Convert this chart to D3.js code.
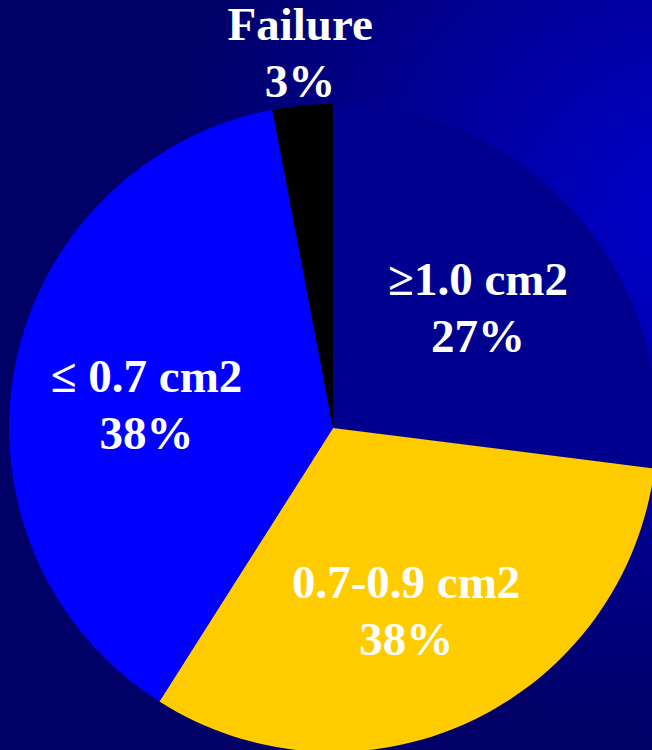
<!DOCTYPE html>
<html>
<head>
<meta charset="utf-8">
<script src="https://cdn.jsdelivr.net/npm/d3@7"></script>
<style>
  body { margin: 0; background: #000066; }
  svg { display: block; }
  .lbl { font-family: "Liberation Serif", "Times New Roman", serif; font-weight: bold; font-size: 47px; fill: #fff; }
</style>
</head>
<body>
<svg></svg>
<script>
const categories = ['\u22651.0 cm2', '0.7-0.9 cm2', '\u2264 0.7 cm2', 'Failure'];
const values = [27, 32, 38, 3];
const pctLabels = ['27%', '38%', '38%', '3%'];
const colors = ['#00008E', '#FFCC00', '#0000FF', '#000000'];

const width = 652, height = 750;
const cx = 333, cy = 428, radius = 324;

const svg = d3.select('svg')
    .attr('width', width)
    .attr('height', height);

const defs = svg.append('defs');
const grad = defs.append('radialGradient')
    .attr('id', 'bg')
    .attr('gradientUnits', 'userSpaceOnUse')
    .attr('cx', 680).attr('cy', 220).attr('r', 520);
grad.append('stop').attr('offset', '0%').attr('stop-color', '#0000CC');
grad.append('stop').attr('offset', '100%').attr('stop-color', '#000066');

svg.append('rect')
    .attr('width', width).attr('height', height)
    .attr('fill', 'url(#bg)');

const pie = d3.pie().sort(null).value(d => d.value);
const data = categories.map((c, i) => ({name: c, value: values[i], pct: pctLabels[i], color: colors[i]}));
const arcs = pie(data);

const arc = d3.arc().innerRadius(0).outerRadius(radius);
const labelArc = d3.arc().innerRadius(200).outerRadius(200);
const outerLabelArc = d3.arc().innerRadius(360).outerRadius(360);

const g = svg.append('g')
    .attr('transform', `translate(${cx},${cy})`);

g.selectAll('path')
    .data(arcs)
    .join('path')
    .attr('d', arc)
    .attr('fill', d => d.data.color);

// small nudges so labels sit where the slide put them
const nudge = [[-5, -1], [-12, -11], [10, 1], [1, -30]];

const labels = g.selectAll('text')
    .data(arcs)
    .join('text')
    .attr('class', 'lbl')
    .attr('text-anchor', 'middle')
    .attr('transform', (d, i) => {
        const c = (d.data.name === 'Failure' ? outerLabelArc : labelArc).centroid(d);
        return `translate(${c[0] + nudge[i][0]},${c[1] + nudge[i][1]})`;
    });

labels.append('tspan').attr('x', 0).attr('y', 0).text(d => d.data.name);
labels.append('tspan').attr('x', 0).attr('y', 57).text(d => d.data.pct);
</script>
</body>
</html>
